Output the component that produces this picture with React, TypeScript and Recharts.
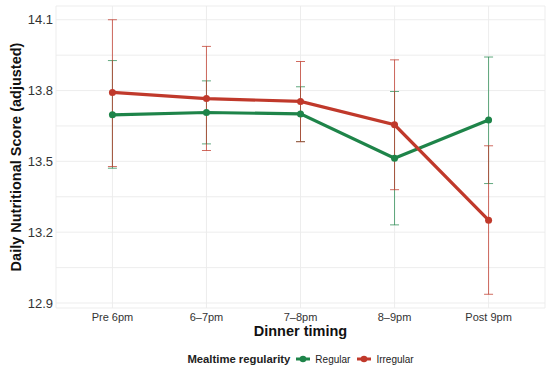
import {
  ComposedChart,
  Line,
  ErrorBar,
  XAxis,
  YAxis,
  CartesianGrid,
  Legend,
} from "recharts";

const categories = ["Pre 6pm", "6–7pm", "7–8pm", "8–9pm", "Post 9pm"];

const regularMean = [13.697, 13.707, 13.701, 13.513, 13.675];
const regularLow = [13.471, 13.574, 13.584, 13.231, 13.406];
const regularHigh = [13.927, 13.841, 13.816, 13.796, 13.942];

const irregularMean = [13.792, 13.766, 13.754, 13.655, 13.251];
const irregularLow = [13.478, 13.546, 13.583, 13.38, 12.937];
const irregularHigh = [14.1, 13.987, 13.923, 13.93, 13.566];

const majorTicks = [12.9, 13.2, 13.5, 13.8, 14.1];
const minorTicks = [13.05, 13.35, 13.65, 13.95];

const GREEN = "#1E8449";
const RED = "#C0392B";
const FONT = "'Liberation Sans', Arial, Helvetica, sans-serif";

const data = categories.map((c, i) => ({
  x: i,
  name: c,
  regular: regularMean[i],
  regularErr: [regularMean[i] - regularLow[i], regularHigh[i] - regularMean[i]],
  irregular: irregularMean[i],
  irregularErr: [irregularMean[i] - irregularLow[i], irregularHigh[i] - irregularMean[i]],
}));

// ggplot-style 5% expansion of the y range
const allVals = [...regularLow, ...regularHigh, ...irregularLow, ...irregularHigh];
const yMin = Math.min(...allVals);
const yMax = Math.max(...allVals);
const pad = (yMax - yMin) * 0.05;
const yTicks = [...majorTicks, ...minorTicks].sort((a, b) => a - b);

function LegendKey({ color }: { color: string }) {
  return (
    <svg width={16} height={10} style={{ display: "block" }}>
      <line x1={1} y1={5} x2={15} y2={5} stroke={color} strokeWidth={3} />
      <circle cx={8} cy={5} r={3.3} fill={color} />
    </svg>
  );
}

function MyLegend() {
  return (
    <div
      style={{
        display: "flex",
        justifyContent: "center",
        alignItems: "center",
        height: 20,
        fontFamily: FONT,
        color: "#222",
      }}
    >
      <span style={{ fontWeight: "bold", fontSize: 11.3, marginRight: 5 }}>
        Mealtime regularity
      </span>
      <LegendKey color={GREEN} />
      <span style={{ fontSize: 10, marginLeft: 4, marginRight: 6 }}>Regular</span>
      <LegendKey color={RED} />
      <span style={{ fontSize: 10, marginLeft: 4 }}>Irregular</span>
    </div>
  );
}

export default function App() {
  return (
    <div style={{ position: "absolute", left: 0, top: 0, background: "#fff" }}>
      <ComposedChart
        width={550}
        height={369}
        data={data}
        margin={{ top: 6, right: 5, left: 0, bottom: 0 }}
        style={{ fontFamily: FONT }}
      >
        <CartesianGrid stroke="#EBEBEB" strokeWidth={0.9} />
        <XAxis
          dataKey="x"
          type="number"
          domain={[-0.6, 4.6]}
          ticks={[0, 1, 2, 3, 4]}
          tickFormatter={(v: number) => categories[v]}
          axisLine={false}
          tickLine={false}
          tickSize={0}
          tickMargin={5}
          height={41}
          tick={{ fill: "#333", fontSize: 11 }}
          label={{
            content: ({ viewBox }: any) => (
              <text
                x={viewBox.x + viewBox.width / 2}
                y={viewBox.y + 28}
                textAnchor="middle"
                fontWeight="bold"
                fontSize={14.5}
                fill="#111"
              >
                Dinner timing
              </text>
            ),
          }}
        />
        <YAxis
          type="number"
          domain={[yMin - pad, yMax + pad]}
          ticks={yTicks}
          tickFormatter={(v: number) => (majorTicks.includes(v) ? v.toFixed(1) : "")}
          axisLine={false}
          tickLine={false}
          tickSize={0}
          tickMargin={3}
          width={56}
          tick={{ fill: "#333", fontSize: 13 }}
          label={{
            content: ({ viewBox }: any) => {
              const cx = 20.5;
              const cy = viewBox.y + viewBox.height / 2;
              return (
                <text
                  x={cx}
                  y={cy}
                  transform={`rotate(-90, ${cx}, ${cy})`}
                  textAnchor="middle"
                  fontWeight="bold"
                  fontSize={14.5}
                  fill="#111"
                >
                  Daily Nutritional Score (adjusted)
                </text>
              );
            },
          }}
        />
        <Legend
          verticalAlign="bottom"
          content={() => <MyLegend />}
          wrapperStyle={{ left: 56, width: 489 }}
        />
        {/* error bars underneath the lines */}
        <Line
          dataKey="regular"
          stroke="none"
          dot={false}
          activeDot={false}
          legendType="none"
          isAnimationActive={false}
        >
          <ErrorBar
            dataKey="regularErr"
            direction="y"
            width={4.5}
            stroke={GREEN}
            strokeOpacity={0.7}
            strokeWidth={1}
            isAnimationActive={false}
          />
        </Line>
        <Line
          dataKey="irregular"
          stroke="none"
          dot={false}
          activeDot={false}
          legendType="none"
          isAnimationActive={false}
        >
          <ErrorBar
            dataKey="irregularErr"
            direction="y"
            width={4.5}
            stroke={RED}
            strokeOpacity={0.75}
            strokeWidth={1}
            isAnimationActive={false}
          />
        </Line>
        <Line
          dataKey="regular"
          stroke={GREEN}
          strokeWidth={3.2}
          dot={{ r: 3.5, fill: GREEN, stroke: GREEN, strokeWidth: 0 }}
          activeDot={false}
          isAnimationActive={false}
        />
        <Line
          dataKey="irregular"
          stroke={RED}
          strokeWidth={3.2}
          dot={{ r: 3.5, fill: RED, stroke: RED, strokeWidth: 0 }}
          activeDot={false}
          isAnimationActive={false}
        />
      </ComposedChart>
    </div>
  );
}
